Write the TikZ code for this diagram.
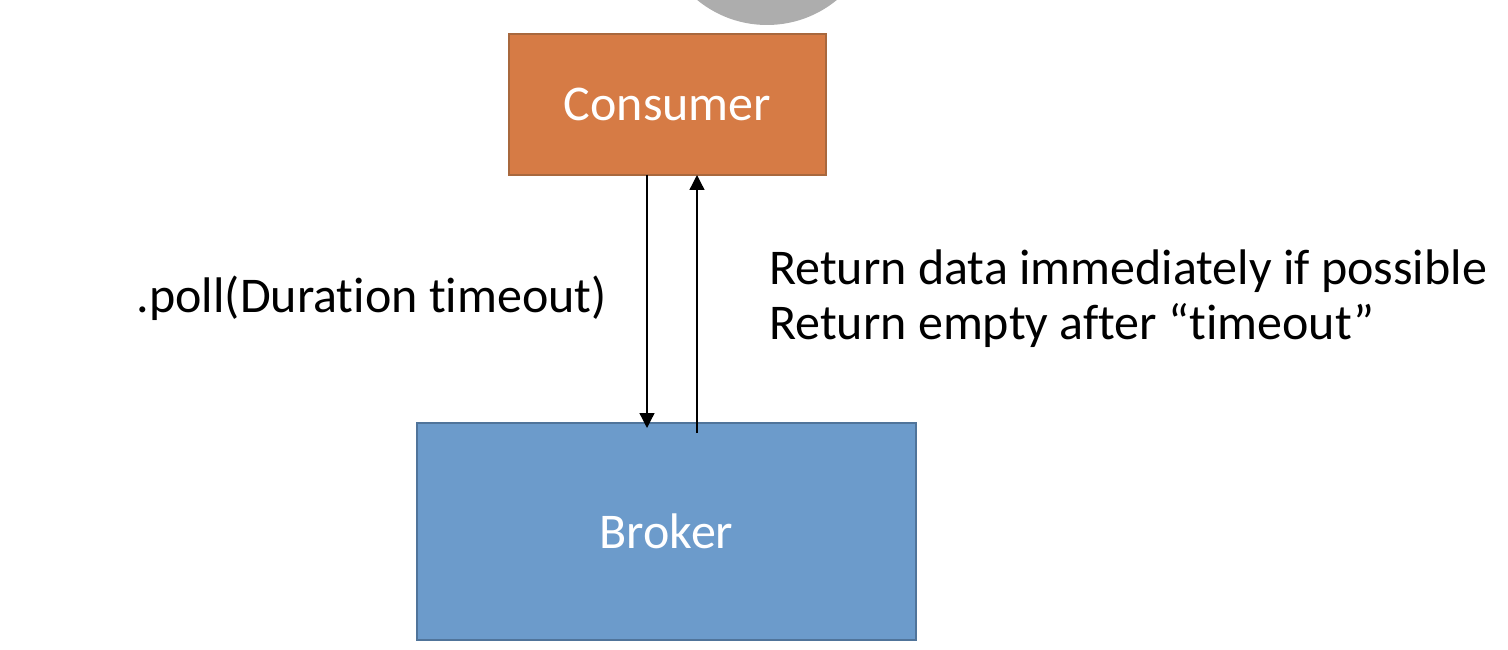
\documentclass[tikz,border=0pt]{standalone}
\usepackage{fontspec}
\setmainfont[Ligatures=NoCommon]{Carlito}
\usepackage{tikz}
\usetikzlibrary{arrows.meta,%
                positioning}
\definecolor{consumerfill}{HTML}{D67B45}
\definecolor{consumerline}{HTML}{A8683E}
\definecolor{brokerfill}{HTML}{6C9BCB}
\definecolor{brokerline}{HTML}{50749A}
\definecolor{dotgray}{HTML}{ADADAD}

\begin{document}
\begin{tikzpicture}[x=1pt,y=-1pt]
\tikzset{BoxStyle/.style = {shape          = rectangle,
                              line width     = 1.5pt,
                              inner sep      = 0pt,
                              outer sep      = 0pt,
                              text           = white,
                              font           = \fontsize{50}{55}\selectfont},
         LabelStyle/.style = {inner sep = 0pt,
                              font      = \fontsize{50}{55}\selectfont},
         EdgeStyle/.style = {line width = 1.3pt,
                             -{Triangle[length=15pt,width=15pt]}}}
     \useasboundingbox (0,0) rectangle (1508,650);
     \fill[dotgray] (767,-85) circle (110);
     \node[BoxStyle,fill=consumerfill,draw=consumerline,
           minimum width=317pt,minimum height=141pt](C) at (667.5,104.5){Consumer};
     \node[BoxStyle,fill=brokerfill,draw=brokerline,
           minimum width=499pt,minimum height=217pt](B) at (666.5,531.5){Broker};
     \coordinate (PollEnd) at (647,428);
     \coordinate (ReplyStart) at (697,433);
     %\draw[EdgeStyle](C) to (B);
     \draw[EdgeStyle](PollEnd |- C.south) to (PollEnd);
     \draw[EdgeStyle](ReplyStart) to (ReplyStart |- C.south);
     \node[LabelStyle,anchor=base east](P) at (607,312){.poll(Duration timeout)};
     \node[LabelStyle,anchor=base west,align=left](R) at (769,339)
          {Return data immediately if possible\\Return empty after “timeout”};
\end{tikzpicture}
\end{document}
